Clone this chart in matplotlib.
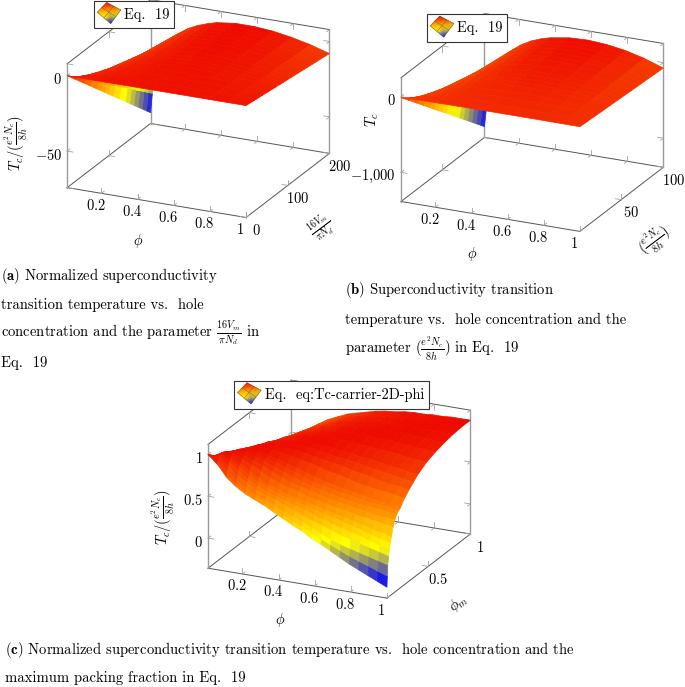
import numpy as np
import matplotlib
matplotlib.use('Agg')
import matplotlib.pyplot as plt
from matplotlib.colors import LinearSegmentedColormap
from mpl_toolkits.mplot3d import proj3d

plt.rcParams['font.family'] = ['cmr10', 'DejaVu Sans']
plt.rcParams['mathtext.fontset'] = 'cm'
plt.rcParams['axes.unicode_minus'] = False
plt.rcParams['axes.formatter.use_mathtext'] = True

phi_ab = [0.01, 0.02, 0.031, 0.041, 0.062, 0.083, 0.114, 0.166, 0.218, 0.27, 0.323, 0.375, 0.479, 0.583, 0.687, 0.792, 0.896, 1.0]

y_a = [0, 20, 40, 55, 70, 80, 90, 100, 110, 125, 140, 150, 160, 170, 180, 190, 200]
tc_a = [
    [0] * 18,
    [-6.7, -5.4, -4.6, -4.0, -3.1, -2.5, -1.8, -1.1, -0.7, -0.4, -0.2, 0, 0.2, 0.2, 0.1, -0.2, -0.4, -0.8],
    [-13.4, -10.8, -9.2, -7.9, -6.1, -4.9, -3.6, -2.3, -1.4, -0.8, -0.4, 0, 0.3, 0.3, 0.1, -0.3, -0.9, -1.6],
    [-18.4, -14.9, -12.7, -10.9, -8.4, -6.7, -5.0, -3.1, -1.9, -1.1, -0.5, 0, 0.4, 0.4, 0.2, -0.4, -1.2, -2.2],
    [-23.5, -18.9, -16.1, -13.8, -10.7, -8.6, -6.3, -4.0, -2.5, -1.4, -0.6, 0, 0.6, 0.6, 0.2, -0.5, -1.5, -2.8],
    [-26.8, -21.6, -18.4, -15.8, -12.2, -9.8, -7.2, -4.5, -2.8, -1.6, -0.7, 0, 0.6, 0.6, 0.2, -0.6, -1.7, -3.2],
    [-30.2, -24.3, -20.7, -17.8, -13.7, -11.0, -8.1, -5.1, -3.2, -1.8, -0.8, 0, 0.7, 0.7, 0.3, -0.7, -1.9, -3.6],
    [-33.5, -27.0, -23.0, -19.8, -15.3, -12.3, -9.0, -5.7, -3.5, -2.0, -0.9, 0, 0.8, 0.8, 0.3, -0.8, -2.2, -4.0],
    [-36.9, -29.7, -25.3, -21.7, -16.8, -13.5, -9.9, -6.2, -3.9, -2.2, -1.0, 0, 0.9, 0.9, 0.3, -0.8, -2.4, -4.4],
    [-41.9, -33.8, -28.8, -24.7, -19.1, -15.3, -11.3, -7.1, -4.4, -2.5, -1.1, 0, 1.0, 1.0, 0.4, -0.9, -2.7, -5.0],
    [-46.9, -37.8, -32.2, -27.7, -21.4, -17.2, -12.6, -7.9, -4.9, -2.8, -1.3, 0, 1.1, 1.1, 0.4, -1.1, -3.0, -5.6],
    [-50.3, -40.5, -34.5, -29.6, -22.9, -18.4, -13.5, -8.5, -5.3, -3.0, -1.4, 0, 1.2, 1.2, 0.5, -1.1, -3.2, -6.0],
    [-53.6, -43.2, -36.8, -31.6, -24.4, -19.6, -14.4, -9.0, -5.6, -3.2, -1.4, 0, 1.3, 1.3, 0.5, -1.2, -3.4, -6.4],
    [-57.0, -45.9, -39.1, -33.6, -25.9, -20.8, -15.3, -9.6, -6.0, -3.4, -1.5, 0, 1.4, 1.4, 0.5, -1.3, -3.7, -6.8],
    [-60.3, -48.6, -41.4, -35.6, -27.5, -22.1, -16.2, -10.2, -6.3, -3.6, -1.6, 0, 1.4, 1.4, 0.5, -1.4, -3.9, -7.2],
    [-63.7, -51.3, -43.7, -37.5, -29.0, -23.3, -17.1, -10.7, -6.7, -3.8, -1.7, 0, 1.5, 1.5, 0.6, -1.4, -4.1, -7.6],
    [-67.0, -54.0, -46.0, -39.5, -30.5, -24.5, -18.0, -11.3, -7.0, -4.0, -1.8, 0, 1.6, 1.6, 0.6, -1.5, -4.3, -8.0],
]

y_b = [1, 10, 20, 27.5, 35, 40, 45, 50, 55, 62.5, 70, 75, 80, 85, 90, 95, 100]
tc_b = [
    [-12, -10, -9, -7, -6, -4, -3, -2, -1, 0, 0, 1, 1, 1, 1, 1, 0, -1],
    [-124, -102, -86, -73, -56, -43, -30, -16, -7, -1, 4, 8, 12, 13, 11, 7, 1, -7],
    [-248, -203, -171, -146, -111, -86, -60, -32, -14, -1, 9, 16, 24, 26, 23, 15, 2, -15],
    [-342, -280, -236, -202, -153, -119, -83, -45, -20, -1, 12, 21, 33, 36, 31, 20, 3, -20],
    [-434, -356, -300, -257, -195, -152, -105, -57, -25, -2, 15, 28, 42, 45, 40, 26, 4, -26],
    [-497, -407, -343, -293, -222, -173, -121, -65, -28, -2, 17, 31, 48, 52, 45, 30, 5, -29],
    [-559, -458, -386, -330, -249, -195, -135, -73, -32, -2, 19, 35, 54, 58, 51, 33, 5, -33],
    [-621, -509, -429, -367, -278, -216, -151, -82, -36, -3, 22, 39, 60, 65, 57, 37, 6, -37],
    [-683, -560, -471, -403, -305, -238, -167, -90, -39, -3, 24, 43, 66, 72, 62, 41, 6, -40],
    [-776, -636, -535, -458, -347, -270, -189, -102, -44, -3, 27, 49, 74, 82, 71, 46, 8, -46],
    [-870, -713, -600, -513, -388, -302, -212, -114, -49, -4, 30, 55, 84, 91, 80, 52, 9, -52],
    [-931, -763, -643, -550, -416, -325, -227, -123, -54, -4, 32, 59, 89, 98, 85, 56, 9, -55],
    [-993, -815, -686, -587, -444, -346, -242, -131, -57, -4, 34, 62, 96, 104, 90, 59, 10, -58],
    [-1056, -865, -728, -624, -472, -368, -257, -139, -60, -4, 37, 67, 101, 111, 96, 63, 10, -62],
    [-1118, -916, -771, -660, -499, -389, -272, -147, -63, -5, 39, 71, 108, 117, 102, 67, 11, -66],
    [-1180, -968, -814, -697, -527, -411, -287, -155, -68, -5, 41, 74, 113, 124, 108, 71, 11, -70],
    [-1242, -1018, -857, -733, -555, -432, -302, -163, -71, -5, 43, 78, 119, 130, 113, 74, 12, -73],
]

phi_c = [0.01, 0.062, 0.114, 0.166, 0.218, 0.27, 0.323, 0.375, 0.427, 0.479, 0.531, 0.583, 0.635, 0.687, 0.74, 0.792, 0.844, 0.896, 0.948, 1.0]
phim_c = [0.01, 0.015, 0.02, 0.031, 0.041, 0.052, 0.062, 0.083, 0.104, 0.125, 0.145, 0.166, 0.218, 0.27, 0.323, 0.375, 0.479, 0.583, 0.687, 0.792, 0.896, 1.0]
tc_c = [
    [1.0, 0.9, 0.76, 0.67, 0.6, 0.55, 0.5, 0.44, 0.38, 0.32, 0.27, 0.2, 0.15, 0.09, 0.03, -0.03, -0.08, -0.13, -0.18, -0.23],
    [0.99, 0.92, 0.8, 0.7, 0.63, 0.58, 0.53, 0.48, 0.42, 0.37, 0.32, 0.26, 0.21, 0.16, 0.11, 0.06, 0.02, -0.02, -0.06, -0.1],
    [0.99, 0.94, 0.83, 0.73, 0.66, 0.6, 0.55, 0.51, 0.46, 0.42, 0.37, 0.32, 0.27, 0.22, 0.18, 0.15, 0.12, 0.09, 0.06, 0.03],
    [0.98, 0.97, 0.88, 0.78, 0.71, 0.65, 0.6, 0.57, 0.52, 0.48, 0.44, 0.4, 0.36, 0.32, 0.28, 0.25, 0.22, 0.19, 0.16, 0.13],
    [0.96, 0.99, 0.92, 0.83, 0.75, 0.69, 0.64, 0.6, 0.57, 0.53, 0.5, 0.46, 0.43, 0.39, 0.36, 0.33, 0.3, 0.26, 0.23, 0.2],
    [0.94, 1.0, 0.94, 0.87, 0.79, 0.73, 0.68, 0.63, 0.6, 0.57, 0.54, 0.51, 0.48, 0.45, 0.42, 0.39, 0.36, 0.33, 0.3, 0.27],
    [0.92, 1.0, 0.96, 0.9, 0.83, 0.76, 0.71, 0.67, 0.63, 0.6, 0.57, 0.55, 0.52, 0.49, 0.47, 0.44, 0.41, 0.38, 0.36, 0.33],
    [0.87, 0.99, 0.99, 0.94, 0.89, 0.83, 0.77, 0.73, 0.69, 0.66, 0.62, 0.6, 0.57, 0.55, 0.53, 0.51, 0.49, 0.47, 0.45, 0.43],
    [0.83, 0.98, 1.0, 0.97, 0.93, 0.88, 0.83, 0.78, 0.74, 0.71, 0.68, 0.65, 0.62, 0.6, 0.58, 0.56, 0.54, 0.52, 0.51, 0.5],
    [0.79, 0.96, 1.0, 0.99, 0.95, 0.92, 0.87, 0.83, 0.79, 0.75, 0.72, 0.69, 0.66, 0.64, 0.62, 0.6, 0.59, 0.58, 0.56, 0.55],
    [0.76, 0.94, 0.99, 1.0, 0.97, 0.94, 0.91, 0.87, 0.83, 0.79, 0.75, 0.73, 0.7, 0.68, 0.66, 0.64, 0.62, 0.61, 0.6, 0.58],
    [0.73, 0.92, 0.98, 1.0, 0.99, 0.96, 0.93, 0.9, 0.87, 0.83, 0.8, 0.76, 0.74, 0.71, 0.69, 0.67, 0.65, 0.63, 0.61, 0.59],
    [0.66, 0.86, 0.95, 0.99, 1.0, 0.99, 0.97, 0.95, 0.92, 0.9, 0.87, 0.84, 0.82, 0.79, 0.76, 0.74, 0.72, 0.71, 0.69, 0.67],
    [0.59, 0.81, 0.92, 0.97, 0.99, 1.0, 0.99, 0.98, 0.96, 0.94, 0.92, 0.9, 0.88, 0.85, 0.83, 0.81, 0.78, 0.76, 0.75, 0.73],
    [0.52, 0.77, 0.88, 0.94, 0.98, 0.99, 1.0, 1.0, 0.99, 0.97, 0.95, 0.93, 0.92, 0.9, 0.88, 0.86, 0.84, 0.82, 0.8, 0.78],
    [0.47, 0.73, 0.84, 0.92, 0.96, 0.98, 0.99, 1.0, 1.0, 0.99, 0.98, 0.96, 0.95, 0.93, 0.92, 0.9, 0.88, 0.87, 0.85, 0.83],
    [0.35, 0.66, 0.78, 0.86, 0.92, 0.95, 0.98, 0.99, 1.0, 1.0, 1.0, 0.99, 0.98, 0.97, 0.96, 0.95, 0.94, 0.92, 0.91, 0.9],
    [0.23, 0.59, 0.73, 0.81, 0.87, 0.92, 0.94, 0.97, 0.98, 0.99, 1.0, 1.0, 1.0, 0.99, 0.99, 0.98, 0.97, 0.96, 0.95, 0.94],
    [0.11, 0.53, 0.68, 0.77, 0.83, 0.88, 0.92, 0.94, 0.96, 0.98, 0.99, 0.99, 1.0, 1.0, 1.0, 1.0, 0.99, 0.99, 0.98, 0.97],
    [0, 0.47, 0.63, 0.73, 0.79, 0.84, 0.88, 0.92, 0.94, 0.96, 0.97, 0.98, 0.99, 0.99, 1.0, 1.0, 1.0, 1.0, 0.99, 0.99],
    [-0.11, 0.4, 0.59, 0.69, 0.76, 0.81, 0.85, 0.89, 0.92, 0.94, 0.95, 0.97, 0.98, 0.99, 0.99, 1.0, 1.0, 1.0, 1.0, 1.0],
    [-0.23, 0.35, 0.55, 0.66, 0.73, 0.78, 0.83, 0.86, 0.89, 0.92, 0.94, 0.95, 0.97, 0.98, 0.98, 0.99, 0.99, 1.0, 1.0, 1.0],
]

x_ticks = [0.2, 0.4, 0.6, 0.8, 1]
x_ticklabels = ['$0.2$', '$0.4$', '$0.6$', '$0.8$', '$1$']

W, H = 685, 687
FS = 10.4
S = 300  # size of the square 3d axes, px
hot = LinearSegmentedColormap.from_list('hot_pgf', ['#0000ff', '#ffff00', '#ff8000', '#ee0a00'])

fig = plt.figure(figsize=(W / 100, H / 100), dpi=100)

# overlay in px for labels, captions and legends
top = fig.add_axes([0, 0, 1, 1], zorder=10)
top.set_xlim(0, W)
top.set_ylim(H, 0)
top.axis('off')


def panel(cx, cy, xs, ys, zs, ylim, zlim, y_ticks, y_labels, z_ticks, z_labels):
    rect = [(cx - 0.5135 * S) / W, (H - cy - 0.5135 * S) / H, S / W, S / H]
    ax = fig.add_axes(rect, projection='3d', proj_type='ortho')
    ax.computed_zorder = False
    ax.set_axis_off()
    ax.set_box_aspect((1, 1, 0.672))
    ax.view_init(elev=21, azim=-65)

    xlim = (0.01, 1)
    x0, x1 = xlim
    y0, y1 = ylim
    z0, z1 = zlim

    # background box, three faces like pgfplots
    dark = '#555555'
    gray = '#9a9a9a'
    edges = [((x0, x1), (y0, y0), (z0, z0), dark, 0.7), ((x0, x1), (y1, y1), (z0, z0), dark, 0.7),
             ((x0, x1), (y1, y1), (z1, z1), dark, 0.7), ((x0, x0), (y0, y1), (z0, z0), dark, 0.7),
             ((x0, x0), (y0, y1), (z1, z1), dark, 0.7), ((x1, x1), (y0, y1), (z0, z0), dark, 0.7),
             ((x0, x0), (y0, y0), (z0, z1), gray, 1.0), ((x0, x0), (y1, y1), (z0, z1), gray, 1.0),
             ((x1, x1), (y1, y1), (z0, z1), gray, 1.0)]
    for ex, ey, ez, c, w in edges:
        ax.plot(ex, ey, ez, color=c, lw=w, zorder=1)

    # forked ticks
    lx, ly, lz = 0.032 * (x1 - x0), 0.032 * (y1 - y0), 0.045 * (z1 - z0)
    tick_c = '#a0a0a0'
    for t in x_ticks:
        for yy, zz, sy, sz in [(y0, z0, 1, 1), (y1, z0, -1, 1), (y1, z1, -1, -1)]:
            ax.plot([t, t], [yy, yy + sy * ly], [zz, zz], color=tick_c, lw=0.6, zorder=1)
            ax.plot([t, t], [yy, yy], [zz, zz + sz * lz], color=tick_c, lw=0.6, zorder=1)
    for t in y_ticks:
        for xx, zz, sx, sz in [(x0, z0, 1, 1), (x0, z1, 1, -1), (x1, z0, -1, 1)]:
            ax.plot([xx, xx + sx * lx], [t, t], [zz, zz], color=tick_c, lw=0.6, zorder=1)
            ax.plot([xx, xx], [t, t], [zz, zz + sz * lz], color=tick_c, lw=0.6, zorder=1)
    for t in z_ticks:
        for xx, yy, sx, sy in [(x0, y0, 1, 1), (x0, y1, 1, -1), (x1, y1, -1, -1)]:
            ax.plot([xx, xx + sx * lx], [yy, yy], [t, t], color=tick_c, lw=0.6, zorder=1)
            ax.plot([xx, xx], [yy, yy + sy * ly], [t, t], color=tick_c, lw=0.6, zorder=1)

    X, Y = np.meshgrid(xs, ys)
    Z = np.array(zs, dtype=float)
    # facet colour between mean and lowest corner, so the blue tip keeps its colour
    low = np.minimum.reduce([Z[:-1, :-1], Z[1:, :-1], Z[:-1, 1:], Z[1:, 1:]])
    mean = (Z[:-1, :-1] + Z[1:, :-1] + Z[:-1, 1:] + Z[1:, 1:]) / 4
    Zm = 0.5 * (low + mean)
    face = hot((Zm - Z.min()) / (Z.max() - Z.min()))
    ax.plot_surface(X, Y, Z, facecolors=face, rstride=1, cstride=1,
                    shade=False, linewidth=0.5, zorder=2)

    ax.set_xlim3d(x0, x1, view_margin=0)
    ax.set_ylim3d(y0, y1, view_margin=0)
    ax.set_zlim3d(z0, z1, view_margin=0)

    # tick labels go on the overlay, at the projected position plus a px offset
    ax.apply_aspect()
    m = ax.get_proj()

    def put(x, y, z, dx, dy, s, ha='center'):
        u, v, _ = proj3d.proj_transform(x, y, z, m)
        px, py = ax.transData.transform((u, v))
        top.text(px + dx, H - py + dy, s, ha=ha, va='center', fontsize=FS, zorder=3)

    for t, s in zip(x_ticks, x_ticklabels):
        put(t, y0, z0, -6, 12, s)
    for t, s in zip(y_ticks, y_labels):
        put(x1, t, z0, 10, 13, s)
    for t, s in zip(z_ticks, z_labels):
        put(x0, y0, t, -5, 4, s, ha='right')
    return ax


panel(198.3, 108.6, phi_ab, y_a, tc_a, (0, 200), (-74.2, 7.9),
      [0, 100, 200], ['$0$', '$100$', '$200$'], [-50, 0], ['$-50$', '$0$'])
panel(532.2, 122.5, phi_ab, y_b, tc_b, (1, 100), (-1385, 252),
      [50, 100], ['$50$', '$100$'], [-1000, 0], ['$-1{,}000$', '$0$'])
panel(339.2, 489.2, phi_c, phim_c, tc_c, (0.01, 1), (-0.36, 1.12),
      [0.5, 1], ['$0.5$', '$1$'], [0, 0.5, 1], ['$0$', '$0.5$', '$1$'])


def legend(x, y, w, label):
    h = 27.5
    top.add_patch(plt.Rectangle((x, y), w, h, fc='white', ec='#333333', lw=0.8, zorder=1))
    # small surf glyph: corners left, top, right, bottom of the diamond
    L = np.array([x + 3.3, y + 11.6])
    T = np.array([x + 12.7, y + 2.0])
    R = np.array([x + 26.7, y + 9.3])
    B = np.array([x + 16.7, y + 22.6])
    u = np.array([0, 0.5, 1.0])
    v = np.array([0, 0.5, 1.0])
    gx = np.zeros((3, 3))
    gy = np.zeros((3, 3))
    for i, a in enumerate(v):
        for j, b in enumerate(u):
            p = T + b * (R - T) + a * (L - T) + a * b * (B + T - R - L)
            gx[i, j], gy[i, j] = p
    vals = np.array([[1.0, 0.8, 0.55], [0.72, 0.5, 0.27], [0.5, 0.33, 0.0]])
    top.pcolormesh(gx, gy, vals, cmap=hot, vmin=0, vmax=1, shading='gouraud', zorder=2)
    for k in range(3):
        top.plot(gx[k, :], gy[k, :], color='#555555', lw=0.3, zorder=3)
        top.plot(gx[:, k], gy[:, k], color='#555555', lw=0.3, zorder=3)
    top.text(x + 30.5, y + 14, label, fontsize=FS, va='center', ha='left', zorder=4)


legend(94, 0.7, 80, 'Eq.  19')
legend(427, 14.3, 80, 'Eq.  19')
legend(234.3, 381, 195, 'Eq.  eq:Tc-carrier-2D-phi')

lab = dict(fontsize=FS, ha='center', va='center')
top.text(138, 241, r'$\phi$', **lab)
top.text(16, 143, r'$T_c/(\frac{e^2N_c}{8h})$', rotation=90, **lab)
top.text(322, 227, r'$\frac{16V_m}{\pi N_d}$', rotation=37, **lab)
top.text(472, 254, r'$\phi$', **lab)
top.text(372, 120, r'$T_c$', rotation=90, **lab)
top.text(655, 240, r'$(\frac{e^2N_c}{8h})$', rotation=37, **lab)
top.text(280, 620, r'$\phi$', **lab)
top.text(163, 517, r'$T_c/(\frac{e^2N_c}{8h})$', rotation=90, **lab)
top.text(458, 603, r'$\phi_m$', rotation=37, **lab)

cap = dict(fontsize=10.55, ha='left', va='center')
top.text(1, 275.5, r'$\mathbf{(a)}$ Normalized superconductivity', **cap)
top.text(1, 305, 'transition temperature vs.  hole', **cap)
top.text(1, 334, r'concentration and the parameter $\frac{16V_m}{\pi N_d}$ in', **cap)
top.text(1, 363, 'Eq.  19', **cap)
top.text(345, 290, r'$\mathbf{(b)}$ Superconductivity transition', **cap)
top.text(345, 320, 'temperature vs.  hole concentration and the', **cap)
top.text(345, 349, r'parameter $(\frac{e^2N_c}{8h})$ in Eq.  19', **cap)
top.text(5, 650, r'$\mathbf{(c)}$ Normalized superconductivity transition temperature vs.  hole concentration and the', **cap)
top.text(5, 678, 'maximum packing fraction in Eq.  19', **cap)

fig.savefig('out.png', dpi=100)
